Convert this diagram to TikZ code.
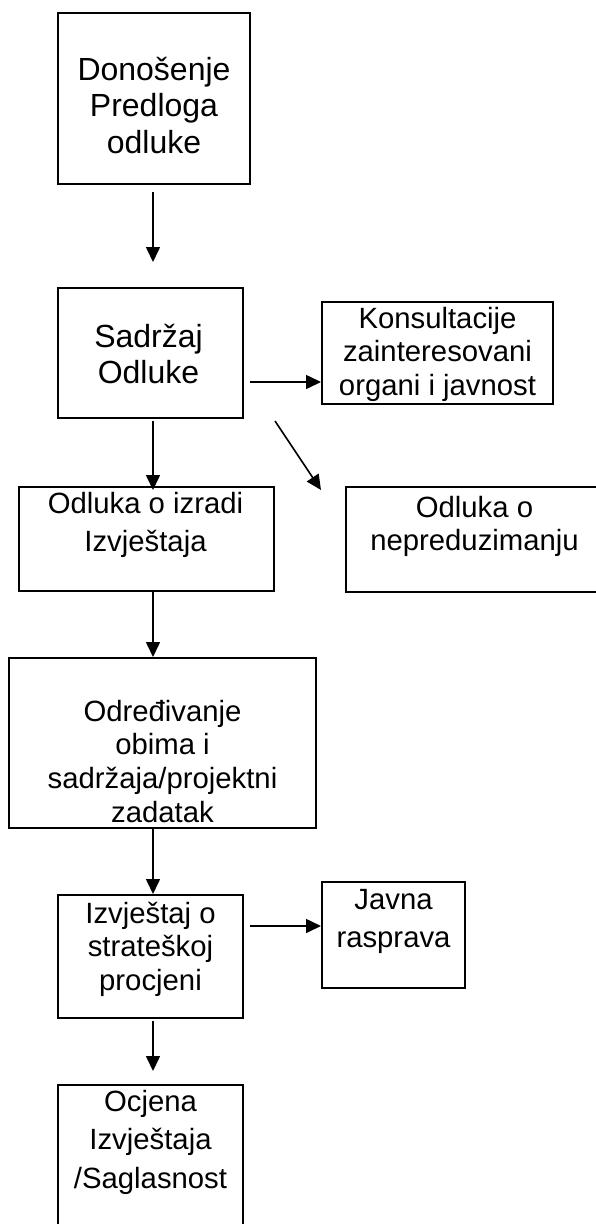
\documentclass[tikz,border=0pt]{standalone}
\usepackage{fontspec}
\setmainfont{Liberation Sans}
\usetikzlibrary{arrows.meta}

\begin{document}
\begin{tikzpicture}[x=1pt, y=-1pt,
    box/.style={draw, line width=2pt, anchor=north west, inner sep=0pt},
    txt/.style={anchor=north, align=center, inner sep=0pt, font=\fontsize{29.3}{33.6}\selectfont},
    txtwide/.style={txt, font=\fontsize{29.3}{38.5}\selectfont},
    txtbig/.style={txt, font=\fontsize{32}{36.8}\selectfont},
    arr/.style={line width=1.6pt, -{Triangle[length=15pt,width=14pt]}}]
  \useasboundingbox (0,0) rectangle (595,1224);
  \coordinate (axis) at (153,0);

  \node[box, minimum width=192pt, minimum height=171pt] (predlog) at (57,12) {};
  \node[box, minimum width=185pt, minimum height=130pt] (sadrzaj) at (57,287) {};
  \node[box, minimum width=231pt, minimum height=102pt] (konsult) at (321,301) {};
  \node[box, minimum width=255pt, minimum height=104pt] (izrada) at (18,486) {};
  \node[box, minimum width=257pt, minimum height=105pt] (nepredu) at (345,486) {};
  \node[box, minimum width=307pt, minimum height=170pt] (odredj) at (8,657) {};
  \node[box, minimum width=185pt, minimum height=123pt] (izvjes) at (57,894) {};
  \node[box, minimum width=143pt, minimum height=106pt] (javna) at (321,881) {};
  \node[box, minimum width=185pt, minimum height=160pt] (ocjena) at (57,1084) {};

  \node[txtbig] (predlogtxt) at ([yshift=-42.2pt]predlog.north) {\strut Donošenje\\Predloga\\odluke};
  \node[txtbig] (sadrzajtxt) at ([xshift=-2pt,yshift=-34.2pt]sadrzaj.north) {\strut Sadržaj\\Odluke};
  \node[txt] (konsulttxt) at ([yshift=-3.5pt]konsult.north) {\strut Konsultacije\\zainteresovani\\organi i javnost};
  \node[txtwide] (izradatxt) at ([xshift=-1pt]izrada.north) {\strut Odluka o izradi\\Izvještaja};
  \node[txt] (nepredutxt) at ([yshift=-7.5pt]nepredu.north) {\strut Odluka o\\nepreduzimanju};
  \node[txt] (odredjtxt) at ([yshift=-40.5pt]odredj.north) {\strut Određivanje\\obima i\\sadržaja/projektni\\zadatak};
  \node[txt] (izvjestxt) at ([yshift=-5.5pt]izvjes.north) {\strut Izvještaj o\\strateškoj\\procjeni};
  \node[txtwide] (javnatxt) at ([yshift=-1pt]javna.north) {\strut Javna\\rasprava};
  \node[txtwide] (ocjenatxt) at (ocjena.north) {\strut Ocjena\\Izvještaja\\/Saglasnost};

  \draw[arr, shorten <=7pt, shorten >=25pt] (predlog.south -| axis) -- (sadrzaj.north -| axis);
  \draw[arr, shorten <=6pt] ([yshift=-29pt]sadrzaj.east) -- ([yshift=-29pt]sadrzaj.east -| konsult.west);
  \draw[arr] ([xshift=31pt,yshift=-2pt]sadrzaj.south east) -- ([xshift=-24pt,yshift=-4pt]nepredu.north west);
  \draw[arr, shorten <=2pt, shorten >=-4pt] (sadrzaj.south -| axis) -- (izrada.north -| axis);
  \draw[arr] (izrada.south -| axis) -- (odredj.north -| axis);
  \draw[arr] (odredj.south -| axis) -- (izvjes.north -| axis);
  \draw[arr, shorten <=6pt] ([yshift=30.5pt]izvjes.east) -- ([yshift=30.5pt]izvjes.east -| javna.west);
  \draw[arr, shorten <=2pt, shorten >=13pt] (izvjes.south -| axis) -- (ocjena.north -| axis);
\end{tikzpicture}
\end{document}
